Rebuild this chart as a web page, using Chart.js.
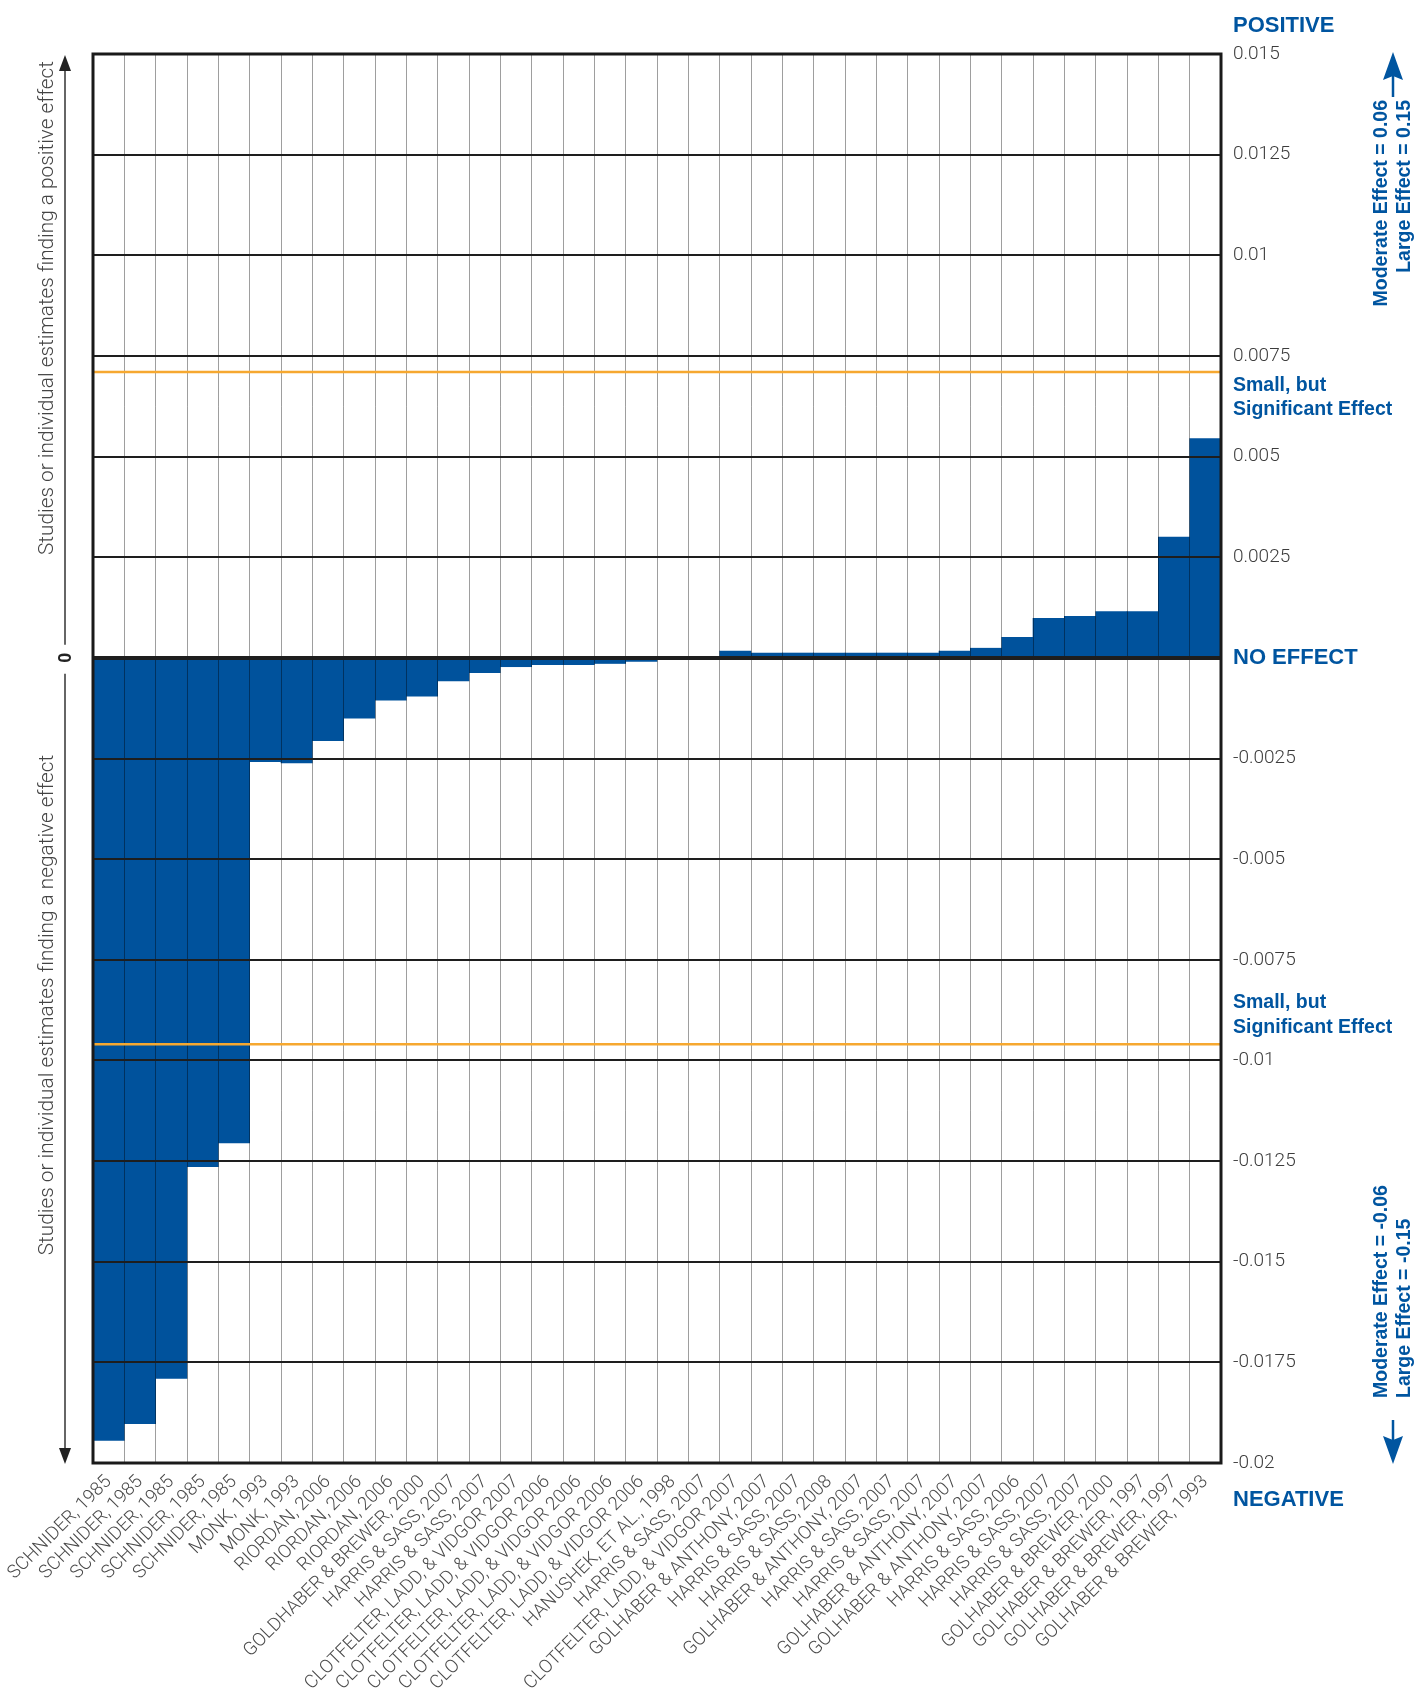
<!DOCTYPE html>
<html>
<head>
<meta charset="utf-8">
<script src="https://cdn.jsdelivr.net/npm/chart.js@4.4.1/dist/chart.umd.min.js"></script>
<style>
html,body{margin:0;padding:0;background:#ffffff;}
#wrap{position:relative;width:1418px;height:1692px;}
canvas{display:block;}
</style>
</head>
<body>
<div id="wrap"><canvas id="c" width="1418" height="1692"></canvas></div>
<script>
// ---------------- DATA ----------------
const categories = [
  'SCHNIDER, 1985','SCHNIDER, 1985','SCHNIDER, 1985','SCHNIDER, 1985','SCHNIDER, 1985',
  'MONK, 1993','MONK, 1993',
  'RIORDAN, 2006','RIORDAN, 2006','RIORDAN, 2006',
  'GOLDHABER & BREWER, 2000',
  'HARRIS & SASS, 2007','HARRIS & SASS, 2007',
  'CLOTFELTER, LADD, & VIDGOR 2007',
  'CLOTFELTER, LADD, & VIDGOR 2006','CLOTFELTER, LADD, & VIDGOR 2006',
  'CLOTFELTER, LADD, & VIDGOR 2006','CLOTFELTER, LADD, & VIDGOR 2006',
  'HANUSHEK, ET AL., 1998',
  'HARRIS & SASS, 2007',
  'CLOTFELTER, LADD, & VIDGOR 2007',
  'GOLHABER & ANTHONY, 2007',
  'HARRIS & SASS, 2007',
  'HARRIS & SASS, 2008',
  'GOLHABER & ANTHONY, 2007',
  'HARRIS & SASS, 2007',
  'HARRIS & SASS, 2007',
  'GOLHABER & ANTHONY, 2007',
  'GOLHABER & ANTHONY, 2007',
  'HARRIS & SASS, 2006',
  'HARRIS & SASS, 2007',
  'HARRIS & SASS, 2007',
  'GOLHABER & BREWER, 2000',
  'GOLHABER & BREWER, 1997',
  'GOLHABER & BREWER, 1997',
  'GOLHABER & BREWER, 1993'
];

const effectValues = [
  -0.01944, -0.01902, -0.01790, -0.01264, -0.01205,
  -0.00258, -0.00261,
  -0.00206, -0.00150, -0.00105,
  -0.00095,
  -0.00057, -0.00037,
  -0.00022,
  -0.00017, -0.00017, -0.00014, -0.00009,
  0,
  0,
  0.00017,
  0.00012,
  0.00012,
  0.00012,
  0.00012,
  0.00012,
  0.00012,
  0.00017,
  0.00024,
  0.00051,
  0.00098,
  0.00103,
  0.00115,
  0.00115,
  0.00300,
  0.00545
];

const yTickValues = [-0.02, -0.0175, -0.015, -0.0125, -0.01, -0.0075, -0.005, -0.0025,
                     0, 0.0025, 0.005, 0.0075, 0.01, 0.0125, 0.015];
const yTickLabels = ['-0.02', '-0.0175', '-0.015', '-0.0125', '-0.01', '-0.0075', '-0.005', '-0.0025',
                     'NO EFFECT', '0.0025', '0.005', '0.0075', '0.01', '0.0125', '0.015'];

const smallEffectPositive = 0.0071;
const smallEffectNegative = -0.0096;

// ---------------- STYLE ----------------
const BLUE = '#00529C';
const TEXT_BLUE = '#0055A0';
const ORANGE = '#F6A830';
const LIGHT_FONT = '"Roboto", "Liberation Sans", Arial, sans-serif';
const BOLD_FONT = '"Liberation Sans", Arial, sans-serif';

const overlay = {
  id: 'overlay',
  afterDraw(chart) {
    const ctx = chart.ctx;
    const a = chart.chartArea;
    const y = chart.scales.y;
    ctx.save();

    // small-but-significant lines
    ctx.strokeStyle = ORANGE;
    ctx.lineWidth = 2.5;
    [smallEffectPositive, smallEffectNegative].forEach(v => {
      const py = y.getPixelForValue(v);
      ctx.beginPath(); ctx.moveTo(a.left, py); ctx.lineTo(a.right, py); ctx.stroke();
    });

    // frame
    ctx.strokeStyle = '#1a1a1a';
    ctx.lineWidth = 3;
    ctx.strokeRect(a.left, a.top, a.right - a.left, a.bottom - a.top);

    // right annotations
    const tx = a.right + 12;
    ctx.fillStyle = TEXT_BLUE;
    ctx.textAlign = 'left';
    ctx.textBaseline = 'alphabetic';
    ctx.font = 'bold 22px ' + BOLD_FONT;
    ctx.fillText('POSITIVE', tx, a.top - 22);
    ctx.fillText('NEGATIVE', tx, a.bottom + 43);

    ctx.font = 'bold 19.5px ' + BOLD_FONT;
    const pPos = y.getPixelForValue(smallEffectPositive);
    const pNeg = y.getPixelForValue(smallEffectNegative);
    ctx.fillText('Small, but', tx, pPos + 19);
    ctx.fillText('Significant Effect', tx, pPos + 43);
    ctx.fillText('Small, but', tx, pNeg - 36);
    ctx.fillText('Significant Effect', tx, pNeg - 11);

    function vtext(str, x, yy, align) {
      ctx.save();
      ctx.translate(x, yy);
      ctx.rotate(-Math.PI / 2);
      ctx.textAlign = align;
      ctx.fillText(str, 0, 0);
      ctx.restore();
    }
    ctx.font = 'bold 19.5px ' + BOLD_FONT;
    vtext('Moderate Effect = 0.06', 1387, 100, 'right');
    vtext('Large Effect = 0.15', 1410, 100, 'right');
    vtext('Moderate Effect = -0.06', 1387, 1398, 'left');
    vtext('Large Effect = -0.15', 1410, 1398, 'left');

    // blue arrows
    const ax = 1393;
    ctx.strokeStyle = TEXT_BLUE;
    ctx.lineWidth = 2.5;
    ctx.beginPath(); ctx.moveTo(ax, 97); ctx.lineTo(ax, 76); ctx.stroke();
    ctx.beginPath(); ctx.moveTo(ax, 52); ctx.lineTo(ax + 10, 80); ctx.lineTo(ax, 76); ctx.lineTo(ax - 10, 80); ctx.closePath(); ctx.fill();
    ctx.beginPath(); ctx.moveTo(ax, 1420); ctx.lineTo(ax, 1441); ctx.stroke();
    ctx.beginPath(); ctx.moveTo(ax, 1464); ctx.lineTo(ax + 10, 1436); ctx.lineTo(ax, 1440); ctx.lineTo(ax - 10, 1436); ctx.closePath(); ctx.fill();

    // left annotations
    const zeroY = y.getPixelForValue(0);
    const lx = 65;
    ctx.strokeStyle = '#333333';
    ctx.fillStyle = '#222222';
    ctx.lineWidth = 1.5;
    ctx.beginPath(); ctx.moveTo(lx, zeroY - 13); ctx.lineTo(lx, a.top + 12); ctx.stroke();
    ctx.beginPath(); ctx.moveTo(lx, a.top + 1); ctx.lineTo(lx + 6, a.top + 17); ctx.lineTo(lx - 6, a.top + 17); ctx.closePath(); ctx.fill();
    ctx.beginPath(); ctx.moveTo(lx, zeroY + 16); ctx.lineTo(lx, a.bottom - 12); ctx.stroke();
    ctx.beginPath(); ctx.moveTo(lx, a.bottom + 1); ctx.lineTo(lx + 6, a.bottom - 15); ctx.lineTo(lx - 6, a.bottom - 15); ctx.closePath(); ctx.fill();

    ctx.font = 'bold 18px ' + BOLD_FONT;
    ctx.textBaseline = 'middle';
    vtext('0', lx + 1, zeroY, 'center');

    ctx.textBaseline = 'alphabetic';
    ctx.fillStyle = '#444444';
    ctx.font = '300 20.8px ' + LIGHT_FONT;
    vtext('Studies or individual estimates finding a positive effect', 53, 308, 'center');
    vtext('Studies or individual estimates finding a negative effect', 53, 1005, 'center');

    ctx.restore();
  }
};

new Chart(document.getElementById('c'), {
  type: 'bar',
  data: {
    labels: categories,
    datasets: [{
      data: effectValues,
      backgroundColor: BLUE,
      borderWidth: 0,
      barPercentage: 1.0,
      categoryPercentage: 1.0
    }]
  },
  options: {
    responsive: false,
    devicePixelRatio: 1,
    animation: false,
    layout: { padding: { left: 93, top: 54, right: 0, bottom: 0 } },
    plugins: { legend: { display: false }, tooltip: { enabled: false } },
    scales: {
      x: {
        grid: { display: true, offset: true, color: 'rgba(0,0,0,0.38)', lineWidth: 1, drawTicks: false, z: 1 },
        border: { display: false },
        ticks: {
          autoSkip: false, maxRotation: 45, minRotation: 45, padding: 8,
          color: '#4a4a4a',
          font: { family: LIGHT_FONT, size: 18.5, weight: '300' }
        },
        afterFit(scale) { scale.height = 229; scale.paddingLeft = 0; scale.paddingRight = 0; }
      },
      y: {
        position: 'right',
        min: -0.02, max: 0.015,
        afterBuildTicks(scale) { scale.ticks = yTickValues.map(v => ({ value: v })); },
        grid: {
          color: '#1e1e1e',
          lineWidth: ctx => (ctx.tick && ctx.tick.value === 0) ? 4 : 2,
          drawTicks: false, z: 1
        },
        border: { display: false },
        ticks: {
          padding: 12,
          autoSkip: false,
          callback: (value, index) => yTickLabels[index],
          color: ctx => (ctx.tick && ctx.tick.value === 0) ? TEXT_BLUE : '#3c3c3c',
          font: ctx => (ctx.tick && ctx.tick.value === 0)
            ? { family: BOLD_FONT, size: 22, weight: 'bold' }
            : { family: LIGHT_FONT, size: 19, weight: '300' }
        },
        afterFit(scale) { scale.width = 197; }
      }
    }
  },
  plugins: [overlay]
});
</script>
</body>
</html>
